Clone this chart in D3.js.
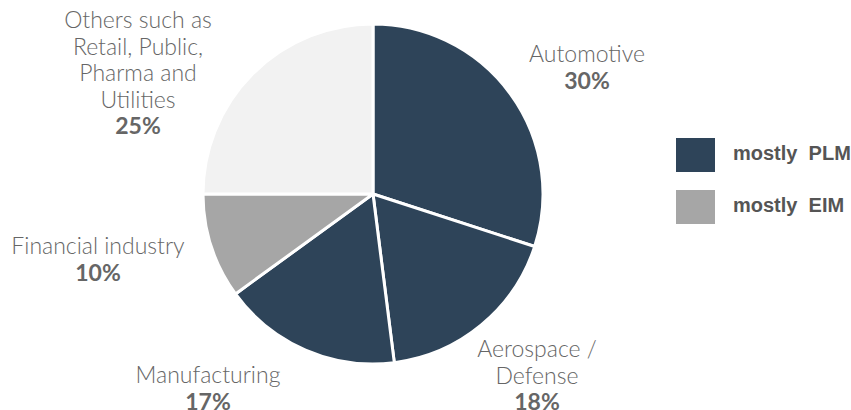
<!DOCTYPE html>
<html>
<head>
<meta charset="utf-8">
<script src="https://cdn.jsdelivr.net/npm/d3@7"></script>
<style>
  html, body { margin: 0; padding: 0; background: #fff; }
  svg { display: block; }
</style>
</head>
<body>
<svg id="chart" width="851" height="410"></svg>
<script>
// Industry share of the customer base
const categories = ["Automotive", "Aerospace / Defense", "Manufacturing", "Financial industry", "Others such as Retail, Public, Pharma and Utilities"];
const shares = [30, 18, 17, 10, 25];
const groups = ["PLM", "PLM", "PLM", "EIM", "Other"];
const legendLabels = ["mostly  PLM", "mostly  EIM"];
const legendGroups = ["PLM", "EIM"];

// Wrapped label lines for each category
const labelLines = [
  ["Automotive"],
  ["Aerospace /", "Defense"],
  ["Manufacturing"],
  ["Financial industry"],
  ["Others such as", "Retail, Public,", "Pharma and", "Utilities"]
];
// Label anchor (centre x, first baseline y)
const labelAnchor = [
  [587, 62],
  [537, 357],
  [208, 383],
  [98, 254],
  [138, 28]
];

const width = 851, height = 410;
const cx = 373, cy = 194, radius = 170;
const lineH = 26.5;

const color = d3.scaleOrdinal()
  .domain(["PLM", "EIM", "Other"])
  .range(["#2e4459", "#a6a6a6", "#f2f2f2"]);

const svg = d3.select("#chart");

const pie = d3.pie().sort(null).value(d => d.value);
const arc = d3.arc().innerRadius(0).outerRadius(radius);

const data = categories.map((c, i) => ({ name: c, value: shares[i], group: groups[i], lines: labelLines[i], anchor: labelAnchor[i] }));

const g = svg.append("g").attr("transform", `translate(${cx},${cy})`);

g.selectAll("path")
  .data(pie(data))
  .join("path")
  .attr("d", arc)
  .attr("fill", d => color(d.data.group))
  .attr("stroke", "#fff")
  .attr("stroke-width", 3)
  .attr("stroke-linejoin", "round");

// Category labels with bold percentage underneath
const labels = svg.selectAll("text.label")
  .data(data)
  .join("text")
  .attr("class", "label")
  .attr("text-anchor", "middle")
  .attr("font-family", "Lato, 'Open Sans', sans-serif")
  .attr("font-weight", 300)
  .attr("font-size", 23)
  .attr("fill", "#666");

labels.each(function(d) {
  const t = d3.select(this);
  d.lines.forEach((ln, i) => {
    t.append("tspan")
      .attr("x", d.anchor[0])
      .attr("y", d.anchor[1] + i * lineH)
      .text(ln);
  });
  t.append("tspan")
    .attr("x", d.anchor[0])
    .attr("y", d.anchor[1] + d.lines.length * lineH)
    .attr("font-weight", "bold")
    .text(d.value + "%");
});

// Legend
const legend = svg.append("g").attr("transform", "translate(676,138)");
const items = legend.selectAll("g")
  .data(legendLabels)
  .join("g")
  .attr("transform", (d, i) => `translate(0,${i * 52})`);

items.append("rect")
  .attr("width", 39)
  .attr("height", 34)
  .attr("fill", (d, i) => color(legendGroups[i]));

items.append("text")
  .attr("x", 57)
  .attr("y", 22)
  .attr("font-family", "Arial, 'Liberation Sans', sans-serif")
  .attr("font-weight", "bold")
  .attr("font-size", 20)
  .attr("fill", "#555")
  .attr("xml:space", "preserve")
  .style("white-space", "pre")
  .text(d => d);
</script>
</body>
</html>
